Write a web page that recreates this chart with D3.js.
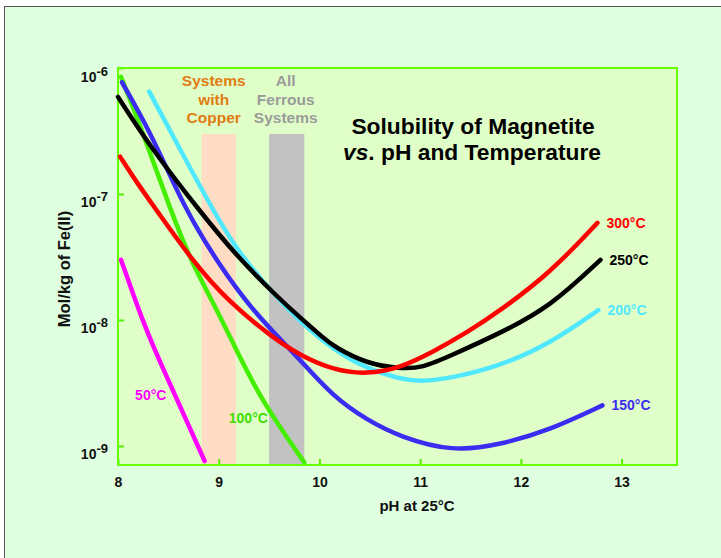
<!DOCTYPE html>
<html>
<head>
<meta charset="utf-8">
<script src="https://cdn.jsdelivr.net/npm/d3@7/dist/d3.min.js"></script>
<style>
	body { margin: 0; background: #ffffff; }
	svg { display: block; }
</style>
</head>
<body>
<svg id="chart" width="721" height="558"></svg>
<script>

// pH at 25°C and Fe(II) solubility (mol/kg)
var ph50 = [8.03, 8.17, 8.32, 8.59, 8.86];
var sol50 = [3.0e-8, 1.44e-8, 6.9e-9, 2.3e-9, 7.6e-10];

var ph100 = [8.03, 8.24, 8.52, 8.72, 8.93, 9.13, 9.42, 9.85];
var sol100 = [8.5e-7, 3.2e-7, 7.5e-8, 3.0e-8, 1.44e-8, 6.9e-9, 2.3e-9, 7.4e-10];

var ph150 = [8.04, 8.32, 8.58, 8.74, 9.01, 9.31, 9.62, 9.81, 10.14, 10.47, 10.80, 11.32, 11.79, 12.29, 12.81];
var sol150 = [7.7e-7, 3.1e-7, 1.08e-7, 6.1e-8, 2.7e-8, 1.27e-8, 6.9e-9, 4.8e-9, 2.45e-9, 1.61e-9, 1.18e-9, 9.0e-10, 1.02e-9, 1.34e-9, 2.1e-9];

var ph200 = [8.31, 8.62, 8.94, 9.18, 9.48, 9.81, 10.14, 10.47, 10.80, 11.00, 11.30, 11.79, 12.29, 12.77];
var sol200 = [6.5e-7, 2.23e-7, 7.5e-8, 3.6e-8, 1.83e-8, 9.6e-9, 5.8e-9, 4.1e-9, 3.4e-9, 3.24e-9, 3.44e-9, 4.3e-9, 6.5e-9, 1.2e-8];

var ph250 = [8.00, 8.32, 8.80, 9.18, 9.58, 9.81, 10.04, 10.15, 10.47, 10.80, 11.02, 11.30, 11.80, 12.29, 12.79];
var sol250 = [5.9e-7, 2.37e-7, 7.5e-8, 3.2e-8, 1.53e-8, 1.04e-8, 7.2e-9, 6.1e-9, 4.5e-9, 4.1e-9, 4.16e-9, 5.2e-9, 7.9e-9, 1.27e-8, 3.0e-8];

var ph300 = [8.02, 8.19, 8.37, 8.74, 9.08, 9.51, 9.81, 10.14, 10.47, 10.80, 11.13, 11.47, 11.79, 12.29, 12.76];
var sol300 = [1.98e-7, 1.22e-7, 7.7e-8, 2.94e-8, 1.44e-8, 7.5e-9, 5.2e-9, 4.0e-9, 3.7e-9, 4.16e-9, 5.6e-9, 8.0e-9, 1.18e-8, 2.36e-8, 5.9e-8];

var curveNames = ["50°C", "100°C", "150°C", "200°C", "250°C", "300°C"];
var curveColors = ["#ff00ff", "#44ee00", "#3c2cf2", "#50e8ff", "#000000", "#ff0000"];

// operating ranges
var copperBand = [8.83, 9.17];
var ferrousBand = [9.5, 9.85];
var bandTop = 3.0e-7;

var xTicks = [8, 9, 10, 11, 12, 13];
var yTicks = [1e-6, 1e-7, 1e-8, 1e-9];
var yExponents = ["-6", "-7", "-8", "-9"];

// where the 50°C and 100°C labels sit (pH, mol/kg)
var lowLabelPh = [8.17, 9.10];
var lowLabelSol = [2.3e-9, 1.53e-9];


var FONT = "'Liberation Sans', Arial, Helvetica, sans-serif";

var PLOT = { left: 118, right: 677, top: 68, bottom: 465 };

var svg = d3.select("#chart");

var x = d3.scaleLinear()
	.domain([8, 13.55])
	.range([PLOT.left, PLOT.right]);

var y = d3.scaleLog()
	.domain([Math.pow(10, -9.151), 1e-6])
	.range([PLOT.bottom, PLOT.top]);

// page frame
svg.append("rect")
	.attr("x", 4.5).attr("y", 6.5)
	.attr("width", 760).attr("height", 600)
	.attr("fill", "#e0ffe0")
	.attr("stroke", "#555555")
	.attr("stroke-width", 1);

// plot background
svg.append("rect")
	.attr("x", PLOT.left).attr("y", PLOT.top)
	.attr("width", PLOT.right - PLOT.left)
	.attr("height", PLOT.bottom - PLOT.top)
	.attr("fill", "#e0ffc8");

// bands
svg.append("rect")
	.attr("x", x(copperBand[0])).attr("y", y(bandTop))
	.attr("width", x(copperBand[1]) - x(copperBand[0]))
	.attr("height", PLOT.bottom - y(bandTop))
	.attr("fill", "#ffdcc4");

svg.append("rect")
	.attr("x", x(ferrousBand[0])).attr("y", y(bandTop))
	.attr("width", x(ferrousBand[1]) - x(ferrousBand[0]))
	.attr("height", PLOT.bottom - y(bandTop))
	.attr("fill", "#c2c2c2");

function bandLabel(lines, cx, color) {
	var t = svg.append("text")
		.attr("text-anchor", "middle")
		.attr("font-family", FONT)
		.attr("font-weight", "bold")
		.attr("font-size", "15.5px")
		.attr("fill", color);
	for(var i=0;i<lines.length;i++) {
		t.append("tspan")
			.attr("x", cx)
			.attr("y", 86 + i*18.5)
			.text(lines[i]);
	}
}
bandLabel(["Systems", "with", "Copper"], x((copperBand[0] + copperBand[1]) / 2) - 5, "#e07c10");
bandLabel(["All", "Ferrous", "Systems"], x((ferrousBand[0] + ferrousBand[1]) / 2) - 1, "#9a9a9a");

// title
var title = svg.append("text")
	.attr("text-anchor", "middle")
	.attr("font-family", FONT)
	.attr("font-weight", "bold")
	.attr("font-size", "22.8px")
	.attr("fill", "#000");
title.append("tspan").attr("x", 473).attr("y", 134).text("Solubility of Magnetite");
var line2 = title.append("tspan").attr("x", 472).attr("y", 160);
line2.append("tspan").attr("font-style", "italic").text("vs");
line2.append("tspan").text(". pH and Temperature");

// axes
var xAxis = d3.axisBottom(x)
	.tickValues(xTicks)
	.tickSize(-6)
	.tickPadding(12)
	.tickFormat(d3.format("d"));

var gx = svg.append("g")
	.attr("transform", "translate(0," + PLOT.bottom + ")")
	.call(xAxis);
gx.select(".domain").remove();
gx.selectAll(".tick line").attr("stroke", "#55ee00").attr("stroke-width", 2);
gx.selectAll(".tick text")
	.attr("font-family", FONT)
	.attr("font-weight", "bold")
	.attr("font-size", "14px")
	.attr("fill", "#111");

var yAxis = d3.axisLeft(y)
	.tickValues(yTicks)
	.tickSize(-6)
	.tickPadding(10)
	.tickFormat("");

var gy = svg.append("g")
	.attr("transform", "translate(" + PLOT.left + ",0)")
	.call(yAxis);
gy.select(".domain").remove();
gy.selectAll(".tick line").attr("stroke", "#55ee00").attr("stroke-width", 2);
gy.selectAll(".tick text")
	.attr("font-family", FONT)
	.attr("font-weight", "bold")
	.attr("font-size", "14px")
	.attr("fill", "#111")
	.attr("dy", 13)
	.each(function(d, i) {
		var t = d3.select(this);
		t.append("tspan").text("10");
		t.append("tspan").attr("dy", -6).attr("font-size", "13px").text(yExponents[i]);
	});

// plot border
svg.append("rect")
	.attr("x", PLOT.left).attr("y", PLOT.top)
	.attr("width", PLOT.right - PLOT.left)
	.attr("height", PLOT.bottom - PLOT.top)
	.attr("fill", "none")
	.attr("stroke", "#66ff00")
	.attr("stroke-width", 2);

// axis titles
svg.append("text")
	.attr("x", 417).attr("y", 511)
	.attr("text-anchor", "middle")
	.attr("font-family", FONT)
	.attr("font-weight", "bold")
	.attr("font-size", "15px")
	.attr("fill", "#111")
	.text("pH at 25°C");

svg.append("text")
	.attr("transform", "translate(70,269) rotate(-90)")
	.attr("text-anchor", "middle")
	.attr("font-family", FONT)
	.attr("font-weight", "bold")
	.attr("font-size", "16.5px")
	.attr("fill", "#111")
	.text("Mol/kg of Fe(II)");

// curves
var series = [
	{ ph: ph50, sol: sol50 },
	{ ph: ph100, sol: sol100 },
	{ ph: ph150, sol: sol150 },
	{ ph: ph200, sol: sol200 },
	{ ph: ph250, sol: sol250 },
	{ ph: ph300, sol: sol300 }
];

var line = d3.line()
	.x(function(p) { return x(p[0]); })
	.y(function(p) { return y(p[1]); })
	.curve(d3.curveBasis);

for(var i=0;i<series.length;i++) {
	var pts = d3.zip(series[i].ph, series[i].sol);
	svg.append("path")
		.attr("d", line(pts))
		.attr("fill", "none")
		.attr("stroke", curveColors[i])
		.attr("stroke-width", 4.5)
		.attr("stroke-linecap", "round")
		.attr("stroke-linejoin", "round");
}

// curve labels: right side ones follow the curve end
for(var i=2;i<series.length;i++) {
	var n = series[i].ph.length - 1;
	svg.append("text")
		.attr("x", x(series[i].ph[n]) + 9)
		.attr("y", y(series[i].sol[n]) + 5)
		.attr("font-family", FONT)
		.attr("font-weight", "bold")
		.attr("font-size", "14px")
		.attr("fill", curveColors[i])
		.text(curveNames[i]);
}
for(var i=0;i<2;i++) {
	svg.append("text")
		.attr("x", x(lowLabelPh[i]))
		.attr("y", y(lowLabelSol[i]))
		.attr("font-family", FONT)
		.attr("font-weight", "bold")
		.attr("font-size", "14px")
		.attr("fill", i == 1 ? "#3ee000" : curveColors[i])
		.text(curveNames[i]);
}

</script>
</body>
</html>
